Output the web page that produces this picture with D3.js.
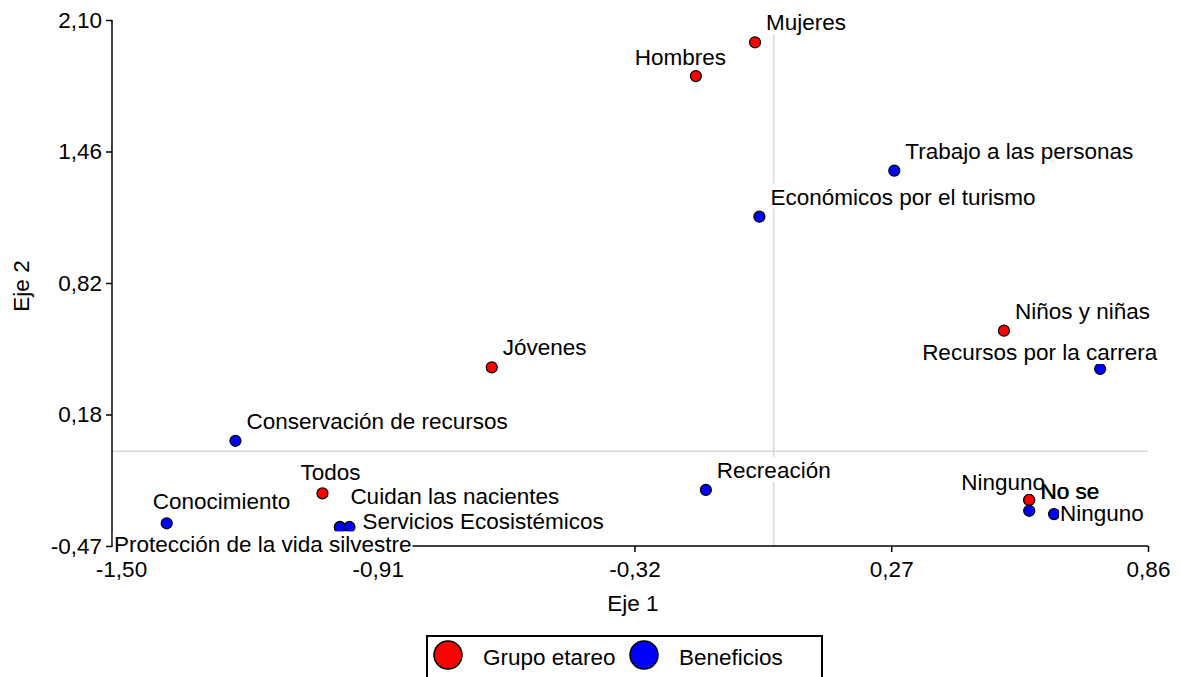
<!DOCTYPE html>
<html>
<head>
<meta charset="utf-8">
<script src="https://cdn.jsdelivr.net/npm/d3@7"></script>
<style>
  html, body { margin: 0; padding: 0; background: #fff; }
  #chart { width: 1181px; height: 677px; }
</style>
</head>
<body>
<div id="chart"></div>
<script>
// Biplot data (Eje 1, Eje 2)
const grupoNames = ["Mujeres", "Hombres", "Niños y niñas", "Jóvenes", "Todos", "Ninguno", "No se"];
const grupoX = [-0.043, -0.179, 0.529, -0.648, -1.037, 0.587, 0.587];
const grupoY = [1.991, 1.826, 0.582, 0.403, -0.213, -0.245, -0.245];

const benefNames = ["Trabajo a las personas", "Económicos por el turismo", "Recursos por la carrera",
    "Conservación de recursos", "Recreación", "Conocimiento", "Cuidan las nacientes",
    "Servicios Ecosistémicos", "Protección de la vida silvestre", "No se", "Ninguno"];
const benefX = [0.277, -0.033, 0.750, -1.237, -0.156, -1.395, -0.997, -0.975, -0.997, 0.587, 0.644];
const benefY = [1.364, 1.139, 0.395, 0.044, -0.196, -0.359, -0.377, -0.377, -0.379, -0.298, -0.314];

const xDomain = [-1.50, 0.86];
const yDomain = [-0.47, 2.10];
const xTickLabels = ["-1,50", "-0,91", "-0,32", "0,27", "0,86"];
const yTickLabels = ["-0,47", "0,18", "0,82", "1,46", "2,10"];

const series = [
    { name: "Grupo etareo", color: "#ff0000", names: grupoNames, xs: grupoX, ys: grupoY, key: "g" },
    { name: "Beneficios", color: "#0000ff", names: benefNames, xs: benefX, ys: benefY, key: "b" }
];

// label placement (offset from the point, px)
const labelDefault = { dx: 11, dy: -12 };
const labelPlace = {
    "g|Hombres": { dx: -61, dy: -11 },
    "g|Todos": { dx: -22, dy: -13 },
    "g|Ninguno": { dx: -68, dy: -10 },
    "g|No se": { dx: 11.5, dy: -0.5 },
    "b|Recursos por la carrera": { dx: -178, dy: -9 },
    "b|Cuidan las nacientes": { dx: 10.5, dy: -23 },
    "b|Servicios Ecosistémicos": { dx: 13, dy: 2 },
    "b|Protección de la vida silvestre": { dx: -226, dy: 25 },
    "b|Conocimiento": { dx: -14, dy: -14 },
    "b|No se": { dx: 11, dy: -11.5 },
    "b|Ninguno": { dx: 6, dy: 7 }
};

const font = "'Liberation Sans', Arial, sans-serif";
const fs = 22.5;

const svg = d3.select("#chart").append("svg")
    .attr("width", 1181).attr("height", 677)
    .style("font-family", font);

const x = d3.scaleLinear().domain(xDomain).range([121, 1148]);
const y = d3.scaleLinear().domain(yDomain).range([546, 20]);
const axisLeftX = 112;

const xTicks = d3.range(5).map(i => xDomain[0] + i * (xDomain[1] - xDomain[0]) / 4);
const yTicks = d3.range(5).map(i => yDomain[0] + i * (yDomain[1] - yDomain[0]) / 4);

// reference lines at 0
svg.append("line")
    .attr("x1", axisLeftX).attr("x2", x(xDomain[1]))
    .attr("y1", y(0) + 1.5).attr("y2", y(0) + 1.5)
    .attr("stroke", "#d9d9d9").attr("stroke-width", 1.5);
svg.append("line")
    .attr("x1", x(0)).attr("x2", x(0))
    .attr("y1", y(yDomain[1])).attr("y2", y(yDomain[0]))
    .attr("stroke", "#d9d9d9").attr("stroke-width", 1.5);

// axes
const xAxis = svg.append("g")
    .attr("transform", `translate(0,${y(yDomain[0])})`)
    .call(d3.axisBottom(x).tickValues(xTicks).tickFormat((d, i) => xTickLabels[i]).tickSize(6).tickPadding(6).tickSizeOuter(0));
const yAxis = svg.append("g")
    .attr("transform", `translate(${axisLeftX},0)`)
    .call(d3.axisLeft(y).tickValues(yTicks).tickFormat((d, i) => yTickLabels[i]).tickSize(6).tickPadding(4).tickSizeOuter(0));

[xAxis, yAxis].forEach(a => {
    a.select(".domain").remove();
    a.selectAll(".tick line").attr("stroke", "#000").attr("stroke-width", 1.5);
    a.selectAll(".tick text").attr("fill", "#000").style("font-size", fs + "px").style("font-family", font);
});
xAxis.selectAll(".tick text").attr("dy", "0.85em");

svg.append("line")
    .attr("x1", axisLeftX).attr("x2", x(xDomain[1]))
    .attr("y1", y(yDomain[0])).attr("y2", y(yDomain[0]))
    .attr("stroke", "#000").attr("stroke-width", 1.5);
svg.append("line")
    .attr("x1", axisLeftX).attr("x2", axisLeftX)
    .attr("y1", y(yDomain[1])).attr("y2", y(yDomain[0]))
    .attr("stroke", "#000").attr("stroke-width", 1.5);

// axis titles
svg.append("text")
    .attr("x", 633).attr("y", 611)
    .attr("text-anchor", "middle")
    .style("font-size", fs + "px")
    .text("Eje 1");
svg.append("text")
    .attr("transform", "translate(29,286) rotate(-90)")
    .attr("text-anchor", "middle")
    .style("font-size", fs + "px")
    .text("Eje 2");

// points
const rows = [];
series.forEach(s => {
    s.names.forEach((n, i) => rows.push({ name: n, x: s.xs[i], y: s.ys[i], color: s.color, key: s.key }));
});

svg.append("g").selectAll("circle")
    .data(rows)
    .join("circle")
    .attr("cx", d => x(d.x))
    .attr("cy", d => y(d.y))
    .attr("r", 5.5)
    .attr("fill", d => d.color)
    .attr("stroke", "#000")
    .attr("stroke-width", 1.2);

// labels with white boxes (boxes first, then texts)
const boxG = svg.append("g");
const textG = svg.append("g");
rows.forEach(d => {
    const p = labelPlace[d.key + "|" + d.name] || labelDefault;
    const t = textG.append("text")
        .attr("x", x(d.x) + p.dx)
        .attr("y", y(d.y) + p.dy)
        .style("font-size", fs + "px")
        .attr("fill", "#000")
        .text(d.name);
    const b = t.node().getBBox();
    boxG.append("rect")
        .attr("x", b.x - 1).attr("y", b.y - 1)
        .attr("width", b.width + 2).attr("height", b.height)
        .attr("fill", "#fff");
});

// legend
const legend = svg.append("g");
legend.append("rect")
    .attr("x", 427).attr("y", 636).attr("width", 395).attr("height", 60)
    .attr("fill", "#fff").attr("stroke", "#000").attr("stroke-width", 2);
const legendItems = [
    { cx: 448, tx: 483 },
    { cx: 644, tx: 679 }
];
series.forEach((s, i) => {
    legend.append("circle")
        .attr("cx", legendItems[i].cx).attr("cy", 655).attr("r", 14)
        .attr("fill", s.color).attr("stroke", "#000").attr("stroke-width", 1.5);
    legend.append("text")
        .attr("x", legendItems[i].tx).attr("y", 665)
        .style("font-size", fs + "px")
        .text(s.name);
});
</script>
</body>
</html>
